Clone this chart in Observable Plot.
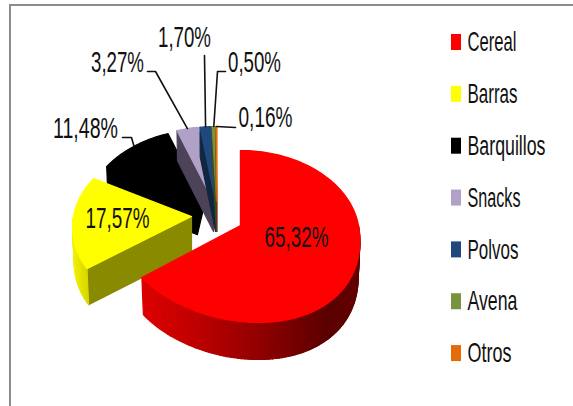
<!DOCTYPE html>
<html><head><meta charset="utf-8">
<script src="https://cdn.jsdelivr.net/npm/d3@7"></script>
<script src="https://cdn.jsdelivr.net/npm/@observablehq/plot@0.6"></script>
<style>html,body{margin:0;padding:0;background:#fff}svg{display:block}</style>
</head><body><script>
const categories = ["Cereal","Barras","Barquillos","Snacks","Polvos","Avena","Otros"];
const shares = [65.32,17.57,11.48,3.27,1.70,0.50,0.16];
const shareLabels = ["65,32%","17,57%","11,48%","3,27%","1,70%","0,50%","0,16%"];
const topColors = ["#ff0000","#ffff00","#000000","#b2a1c7","#1f497d","#77933c","#e46c0a"];
const faceColors = ["#8a0000","#8a8a00","#000000","#4c4359","#11263f","#3c4a1e","#733605"];
const explodeX = [0,-49,-36,-27,-25,-24,-23.5];
const explodeY = [0,-9,-21,-24,-24,-24,-24];
const sliceDepth = [37,36,33,30,30,30,30];
const sliceSkew = [18,0,0,0,0,0,0];
const labelX = [296,117,85,117,184,254,265];
const labelY = [237,218,128,62,37,62,117];
const elbowX = [null,null,122,147,204,225,235];
const elbowY = [null,null,137,71,55,71,127];
const kneeX = [null,null,131,155,null,217,null];
const legendWidths = [49,50,78,53,51,50,44];
const labelWidths = [64,64,65,53,53,53,54];

const apexX = 240, apexY = 225, radiusX = 118, radiusY = 84.6, persp = 0.128;
const deg = Math.PI / 180;
function project(a, i, r = 1, drop = 0) {
  const u = r * Math.sin(a), v = r * Math.cos(a), w = 1 + persp * v;
  const skew = v < 0 ? sliceSkew[i] * v * v : 0;
  const shrink = drop ? 0.985 : 1;
  return [
    apexX + explodeX[i] + shrink * (radiusX * u / w + skew),
    apexY + explodeY[i] + radiusY * -v / w + drop
  ];
}
const arcs = d3.pie().sort(null).value(d => d)(shares);
function arcAngles(a0, a1) {
  const n = Math.max(2, Math.ceil((a1 - a0) / (1.5 * deg)));
  return d3.range(n + 1).map(k => a0 + (a1 - a0) * k / n);
}
const redSide = d3.scaleLinear([142,193,260,327,358],["#dc0000","#c00000","#900000","#5a0000","#640000"]);
const yellowSide = d3.scaleLinear([72,88],["#f0f000","#d4d400"]);

const polys = [];
let pid = 0;
function poly(pts, color) { const id = pid++; pts.forEach(p => polys.push({id, x:p[0], y:p[1], color})); }
function slice(i) {
  const {startAngle:a0, endAngle:a1} = arcs[i];
  const d = sliceDepth[i];
  if (a0 > Math.PI && a0 < 2*Math.PI || a0 === 0)
    poly([project(a0,i,0),project(a0,i),project(a0,i,1,d),project(a0,i,i === 2 ? 0.07 : 0,d)], a0 === 0 ? "#5a0000" : faceColors[i]);
  const lo = Math.max(a0, 90*deg), hi = Math.min(a1, 270*deg);
  if (hi > lo) {
    const as = arcAngles(lo, hi);
    for (let k = 0; k < as.length - 1; k++) {
      const p0 = project(as[k],i), p1 = project(as[k+1],i);
      const c = i === 0 ? redSide((p0[0]+p1[0])/2) : i === 1 ? yellowSide((p0[0]+p1[0])/2) : faceColors[i];
      poly([p0,p1,project(as[k+1],i,1,d),project(as[k],i,1,d)], d3.color(c).formatHex());
    }
  }
  poly([project(a0,i,0), ...arcAngles(a0,a1).map(a => project(a,i))], topColors[i]);
}
[2,3,4,5,6,1,0].forEach(slice);

const labels = categories.map((c,i) => ({label:shareLabels[i], x:labelX[i], y:labelY[i]}));
const leaders = [];
[2,3,4,5,6].forEach(i => {
  const mid = (arcs[i].startAngle + arcs[i].endAngle) / 2;
  const end = project(mid, i);
  const pts = [[elbowX[i],elbowY[i]]];
  if (kneeX[i] !== null) pts.push([kneeX[i],elbowY[i]]);
  pts.push(end);
  pts.forEach(p => leaders.push({id:i,x:p[0],y:p[1]}));
});
const legendTop = 42, legendStep = 51.85;
const legend = categories.map((c,i) => ({name:c, color:topColors[i], y:legendTop + i*legendStep}));

const chart = Plot.plot({
  width:573, height:406, margin:0,
  x:{domain:[0,573], range:[0,573], axis:null},
  y:{domain:[0,406], range:[0,406], axis:null},
  color:{type:"identity"},
  style:{background:"#fff"},
  marks:[
    Plot.ruleX([9.5],{y1:4,y2:406,stroke:"#8c8c8c",strokeWidth:2}),
    Plot.ruleY([4.5],{x1:9,x2:573,stroke:"#8c8c8c",strokeWidth:2}),
    Plot.line(polys,{x:"x",y:"y",z:"id",fill:"color",stroke:"color",strokeWidth:1.2,curve:"linear-closed"}),
    Plot.line(leaders,{x:"x",y:"y",z:"id",stroke:"#111",strokeWidth:1.6}),
    Plot.text(labels,{x:"x",y:"y",text:"label",fontSize:29,fontFamily:"Liberation Sans",fill:"#111"}),
    Plot.rect(legend,{x1:()=>451,x2:()=>461,y1:d=>d.y-8,y2:d=>d.y+8,fill:"color"}),
    Plot.text(legend,{x:()=>467,y:"y",text:"name",textAnchor:"start",fontSize:27,fontFamily:"Liberation Sans",fill:"#111"})
  ]
});
document.body.append(chart);
d3.select(chart).selectAll("text").each(function(){
  const t = this.textContent;
  const iL = categories.indexOf(t), iP = shareLabels.indexOf(t);
  const target = iL >= 0 ? legendWidths[iL] : labelWidths[iP];
  const s = target / this.getComputedTextLength();
  const old = this.getAttribute("transform") || "";
  this.setAttribute("transform", `${old} scale(${s.toFixed(4)},1)`);
});
</script></body></html>
